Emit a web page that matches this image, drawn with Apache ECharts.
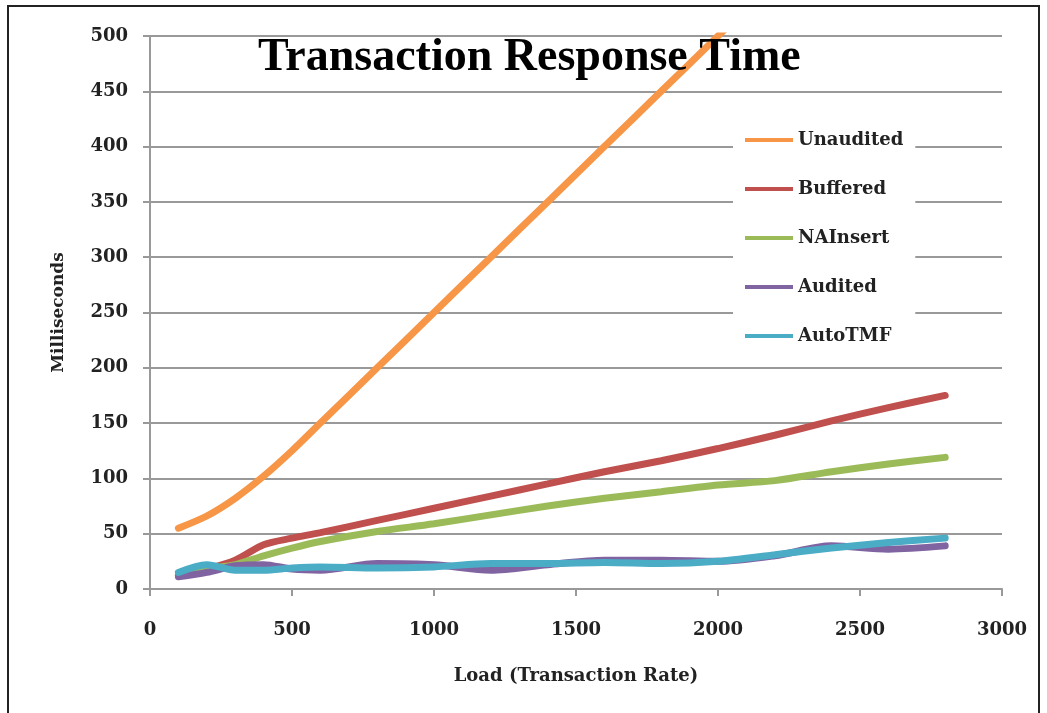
<!DOCTYPE html>
<html>
<head>
<meta charset="utf-8">
<title>Transaction Response Time</title>
<script src="https://cdn.jsdelivr.net/npm/echarts@6/dist/echarts.min.js"></script>
<style>
  html, body { margin: 0; padding: 0; background: #fff; }
  #chart { width: 1047px; height: 713px; }
</style>
</head>
<body>
<div id="chart"></div>
<script>
  // load points (transaction rate)
  var loads = [100, 200, 300, 400, 500, 600, 800, 1000, 1200, 1400, 1600, 1800, 2000, 2200, 2400, 2600, 2800];

  // response time, ms
  var unaudited = [55, 66, 82, 102, 125, 150, 200, 250, 300, 350, 400, 450, 500, 550, null, null, null];
  var buffered  = [12, 18, 26, 40, 46, 51, 62, 73, 84, 95, 106, 116, 127, 139, 152, 164, 175];
  var naInsert  = [12, 18, 22, 30, 37, 43, 52, 59, 67, 75, 82, 88, 94, 98, 106, 113, 119];
  var audited   = [11, 15, 21, 22, 18, 17, 23, 22, 17, 22, 26, 26, 25, 30, 39, 36, 39];
  var autoTMF   = [15, 22, 17, 17, 19, 20, 19, 20, 23, 23, 24, 23, 25, 31, 37, 42, 46];

  var seriesNames = ['Unaudited', 'Buffered', 'NAInsert', 'Audited', 'AutoTMF'];
  var seriesData = [unaudited, buffered, naInsert, audited, autoTMF];
  var colors = ['#F79646', '#C0504D', '#9BBB59', '#8064A2', '#4BACC6'];

  var serif = 'DejaVu Serif';

  function pairs(vals) {
    var out = [];
    for (var i = 0; i < loads.length; i++) {
      if (vals[i] != null) out.push([loads[i], vals[i]]);
    }
    return out;
  }

  var series = seriesNames.map(function (name, i) {
    return {
      name: name,
      type: 'line',
      smooth: 0.3,
      showSymbol: false,
      clip: true,
      data: pairs(seriesData[i]),
      lineStyle: { width: 7, color: colors[i], cap: 'round' },
      itemStyle: { color: colors[i] }
    };
  });

  var myChart = echarts.init(document.getElementById('chart'));

  var option = {
    backgroundColor: '#fff',
    animation: false,
    color: colors,
    title: {
      text: 'Transaction Response Time',
      left: 258,
      top: 35,
      padding: 0,
      textStyle: {
        fontFamily: 'Liberation Serif',
        fontWeight: 'bold',
        fontSize: 46,
        lineHeight: 46,
        color: '#000'
      }
    },
    legend: {
      orient: 'vertical',
      left: 733,
      top: 120,
      padding: [10, 12, 10, 12],
      backgroundColor: '#fff',
      icon: 'rect',
      itemWidth: 48,
      itemHeight: 4,
      itemGap: 29,
      textStyle: {
        fontFamily: serif,
        fontWeight: 'bold',
        fontSize: 18,
        lineHeight: 20,
        color: '#222'
      },
      data: seriesNames
    },
    grid: {
      left: 150,
      right: 45,
      top: 36,
      bottom: 124
    },
    xAxis: {
      type: 'value',
      min: 0,
      max: 3000,
      interval: 500,
      name: 'Load (Transaction Rate)',
      nameLocation: 'middle',
      nameGap: 78,
      nameTextStyle: {
        fontFamily: serif,
        fontWeight: 'bold',
        fontSize: 18,
        color: '#222'
      },
      axisLine: { show: true, lineStyle: { color: '#999', width: 2 } },
      axisTick: { show: true, length: 7, lineStyle: { color: '#999', width: 2 } },
      axisLabel: {
        margin: 32,
        fontFamily: serif,
        fontWeight: 'bold',
        fontSize: 18,
        color: '#222',
        formatter: function (v) { return String(v); }
      },
      splitLine: { show: false }
    },
    yAxis: {
      type: 'value',
      min: 0,
      max: 500,
      interval: 50,
      name: 'Milliseconds',
      nameLocation: 'middle',
      nameGap: 83,
      nameRotate: 90,
      nameTextStyle: {
        fontFamily: serif,
        fontWeight: 'bold',
        fontSize: 17,
        color: '#222'
      },
      axisLine: { show: true, lineStyle: { color: '#999', width: 2 } },
      axisTick: { show: true, length: 7, lineStyle: { color: '#999', width: 2 } },
      axisLabel: {
        margin: 22,
        fontFamily: serif,
        fontWeight: 'bold',
        fontSize: 18,
        color: '#222'
      },
      splitLine: { show: true, lineStyle: { color: '#999', width: 2 } }
    },
    graphic: [
      {
        type: 'rect',
        silent: true,
        shape: { x: 8, y: 6, width: 1031, height: 730 },
        style: { fill: 'none', stroke: '#222', lineWidth: 2 }
      }
    ],
    series: series
  };

  myChart.setOption(option);
</script>
</body>
</html>
